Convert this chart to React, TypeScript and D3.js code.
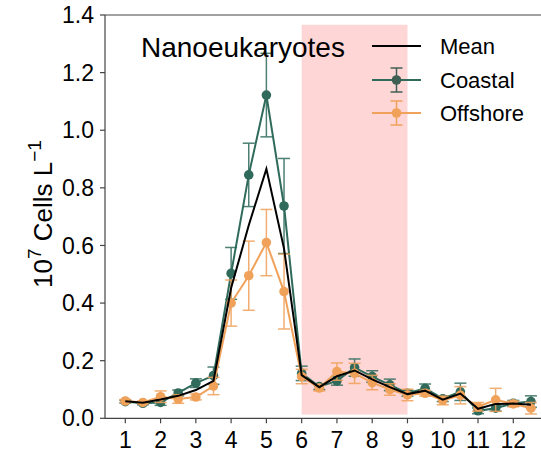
import React from "react";
import * as d3 from "d3";

const months = [1, 1.5, 2, 2.5, 3, 3.5, 4, 4.5, 5, 5.5, 6, 6.5, 7, 7.5, 8, 8.5, 9, 9.5, 10, 10.5, 11, 11.5, 12, 12.5];
const coastal = [0.058, 0.052, 0.055, 0.088, 0.122, 0.148, 0.503, 0.845, 1.122, 0.737, 0.156, 0.11, 0.13, 0.176, 0.145, 0.116, 0.087, 0.104, 0.068, 0.092, 0.026, 0.035, 0.052, 0.058];
const coastalErr = [0.005, 0.005, 0.01, 0.01, 0.015, 0.03, 0.09, 0.11, 0.145, 0.165, 0.025, 0.01, 0.015, 0.03, 0.02, 0.02, 0.01, 0.015, 0.01, 0.03, 0.01, 0.01, 0.01, 0.02];
const offshore = [0.06, 0.055, 0.075, 0.067, 0.074, 0.112, 0.4, 0.495, 0.61, 0.44, 0.145, 0.105, 0.162, 0.156, 0.124, 0.1, 0.081, 0.087, 0.062, 0.08, 0.04, 0.064, 0.05, 0.035];
const offshoreErr = [0.005, 0.005, 0.02, 0.015, 0.01, 0.03, 0.08, 0.12, 0.115, 0.13, 0.025, 0.01, 0.03, 0.035, 0.025, 0.02, 0.02, 0.01, 0.015, 0.03, 0.015, 0.04, 0.01, 0.02];
const meanVals = [0.059, 0.054, 0.065, 0.078, 0.098, 0.13, 0.452, 0.67, 0.866, 0.589, 0.15, 0.108, 0.146, 0.166, 0.135, 0.108, 0.084, 0.096, 0.065, 0.086, 0.033, 0.05, 0.051, 0.047];
const xTicks = [1, 2, 3, 4, 5, 6, 7, 8, 9, 10, 11, 12];
const yTicks = [0, 0.2, 0.4, 0.6, 0.8, 1.0, 1.2, 1.4];
const shadeRange = [6, 9];
const shadeY = [0.013, 1.366];

const W = 541, H = 452;
const FONT = "'Liberation Sans', Arial, sans-serif";
const GREEN = "#2f6a5b";
const GREEN_MK = "#3f5f54";
const ORANGE = "#f0a15a";

export default function App() {
  const x = d3.scaleLinear().domain([1, 12]).range([125.3, 513.3]);
  const y = d3.scaleLinear().domain([0, 1.4]).range([418.3, 15]);
  const line = d3.line<number>().x((_, i) => x(months[i])).y((d) => y(d));
  const left = 105, top = 15, bottom = 418.3;

  const series = [
    { vals: coastal, err: coastalErr, color: GREEN, mk: GREEN_MK },
    { vals: offshore, err: offshoreErr, color: ORANGE, mk: ORANGE },
  ];

  return (
    <svg width={W} height={H} style={{ position: "fixed", left: 0, top: 0, background: "#fff" }} fontFamily={FONT}>
      <rect x={x(shadeRange[0])} width={x(shadeRange[1]) - x(shadeRange[0])} y={y(shadeY[1])} height={y(shadeY[0]) - y(shadeY[1])} fill="#ffd6d6" />
      {series.map((s, si) => (
        <g key={si}>
          <path d={line(s.vals) || ""} fill="none" stroke={s.color} strokeWidth={2} />
          {s.vals.map((v, i) => (
            <g key={i} stroke={s.color} strokeWidth={1.5} opacity={0.85}>
              <line x1={x(months[i])} x2={x(months[i])} y1={y(v - s.err[i])} y2={y(v + s.err[i])} />
              <line x1={x(months[i]) - 6} x2={x(months[i]) + 6} y1={y(v - s.err[i])} y2={y(v - s.err[i])} />
              <line x1={x(months[i]) - 6} x2={x(months[i]) + 6} y1={y(v + s.err[i])} y2={y(v + s.err[i])} />
            </g>
          ))}
          {s.vals.map((v, i) => (
            <circle key={i} cx={x(months[i])} cy={y(v)} r={4.8} fill={si === 0 ? GREEN : ORANGE} />
          ))}
        </g>
      ))}
      <path d={line(meanVals) || ""} fill="none" stroke="#000" strokeWidth={2} />

      {/* spines */}
      <g stroke="#444" strokeWidth={1.2}>
        <line x1={left} x2={left} y1={top} y2={bottom} />
        <line x1={left} x2={W} y1={bottom} y2={bottom} />
        <line x1={left} x2={W} y1={top} y2={top} />
      </g>
      {yTicks.map((t) => (
        <g key={t}>
          <line x1={left - 5} x2={left} y1={y(t)} y2={y(t)} stroke="#444" strokeWidth={1.2} />
          <text x={left - 11} y={y(t)} dy="0.35em" textAnchor="end" fontSize={23} fill="#000">{t.toFixed(1)}</text>
        </g>
      ))}
      {xTicks.map((t) => (
        <g key={t}>
          <line x1={x(t)} x2={x(t)} y1={bottom} y2={bottom + 5} stroke="#444" strokeWidth={1.2} />
          <text x={x(t)} y={bottom + 30} textAnchor="middle" fontSize={23} fill="#000">{t}</text>
        </g>
      ))}
      <text transform="translate(52,214) rotate(-90)" textAnchor="middle" fontSize={26} fill="#000">
        10<tspan dy={-11} fontSize={19}>7</tspan><tspan dy={11}> Cells L</tspan><tspan dy={-11} fontSize={19}>−1</tspan>
      </text>
      <text x={141} y={57} fontSize={28} fill="#000">Nanoeukaryotes</text>

      {/* legend */}
      <line x1={372} x2={421} y1={46} y2={46} stroke="#000" strokeWidth={2} />
      <text x={440} y={46} dy="0.35em" fontSize={22}>Mean</text>
      {[{ c: GREEN, m: GREEN_MK, yy: 80, l: "Coastal" }, { c: ORANGE, m: ORANGE, yy: 113, l: "Offshore" }].map((e) => (
        <g key={e.l}>
          <line x1={372} x2={421} y1={e.yy} y2={e.yy} stroke={e.c} strokeWidth={2} />
          <g stroke={e.m} strokeWidth={1.5}>
            <line x1={396.5} x2={396.5} y1={e.yy - 12} y2={e.yy + 12} />
            <line x1={390.5} x2={402.5} y1={e.yy - 12} y2={e.yy - 12} />
            <line x1={390.5} x2={402.5} y1={e.yy + 12} y2={e.yy + 12} />
          </g>
          <circle cx={396.5} cy={e.yy} r={4.8} fill={e.m} />
          <text x={440} y={e.yy} dy="0.35em" fontSize={22}>{e.l}</text>
        </g>
      ))}
    </svg>
  );
}
